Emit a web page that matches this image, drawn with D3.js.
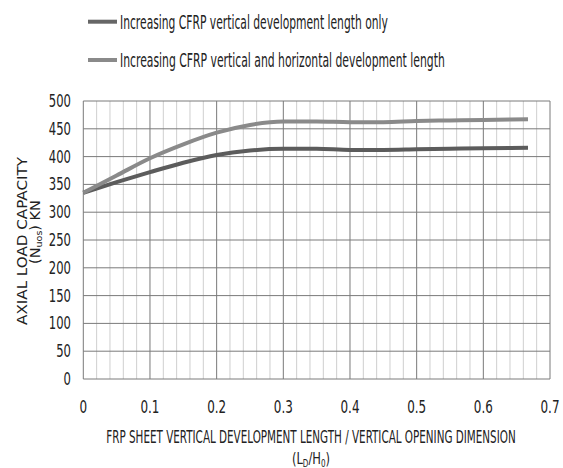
<!DOCTYPE html>
<html><head><meta charset="utf-8">
<script src="https://cdn.jsdelivr.net/npm/d3@7"></script>
<style>body{margin:0;background:#fff}svg{display:block}</style>
</head><body><svg id="c" width="563" height="468"></svg>
<script>
const xValues = [0, 0.05, 0.1, 0.15, 0.2, 0.25, 0.3, 0.35, 0.4, 0.45, 0.5, 0.55, 0.6, 0.667];
const verticalOnly = [335, 354, 372, 389, 403, 411, 414, 414, 412, 412, 413, 414, 415, 416];
const verticalHorizontal = [335, 366, 397, 422, 443, 457, 463, 463, 462, 462, 464, 465, 466, 467];
const seriesNames = ["Increasing CFRP vertical development length only", "Increasing CFRP vertical and horizontal development length"];
const xTicks = [0, 0.1, 0.2, 0.3, 0.4, 0.5, 0.6, 0.7];
const yTicks = [0, 50, 100, 150, 200, 250, 300, 350, 400, 450, 500];

const svg = d3.select("#c");
const narrow = "'Liberation Sans Narrow','DejaVu Sans Condensed',sans-serif";
const L = 83.3, R = 550, T = 101, B = 379;
const x = d3.scaleLinear().domain([0, 0.7]).range([L, R]);
const y = d3.scaleLinear().domain([0, 500]).range([B, T]);

// text placed in a group that is scaled horizontally (sx fixed, or fitted to width w)
function label(px, py, str, size, anchor, opt) {
  const g = svg.append("g");
  const t = g.append("text").attr("text-anchor", anchor)
    .attr("font-family", opt.family || narrow).attr("font-size", size).attr("fill", "#222");
  if (typeof str === "function") str(t); else t.text(str);
  let sx = opt.sx || 1;
  if (opt.w) sx = opt.w / t.node().getComputedTextLength();
  g.attr("transform", `translate(${px},${py})${opt.rot ? " rotate(-90)" : ""} scale(${sx},1)`);
  return g;
}

// minor vertical grid
const minor = d3.range(0, 71, 2).map(d => d / 100).filter((d, i) => i % 5 !== 0);
svg.append("g").selectAll("line").data(minor).join("line")
  .attr("x1", d => x(d)).attr("x2", d => x(d)).attr("y1", T).attr("y2", B)
  .attr("stroke", "#cfcfcf").attr("stroke-width", 1);
// major vertical grid
svg.append("g").selectAll("line").data(xTicks).join("line")
  .attr("x1", d => x(d)).attr("x2", d => x(d)).attr("y1", T).attr("y2", B)
  .attr("stroke", "#7a7a7a").attr("stroke-width", 1);
// horizontal grid
svg.append("g").selectAll("line").data(yTicks).join("line")
  .attr("x1", L).attr("x2", R).attr("y1", d => y(d)).attr("y2", d => y(d))
  .attr("stroke", "#7a7a7a").attr("stroke-width", 1);

// tick labels
yTicks.forEach(d => label(71, y(d) + 6, String(d), 17, "end", { sx: 0.76 }));
xTicks.forEach(d => label(x(d), 413, String(d), 17.5, "middle", { sx: 0.76 }));

// lines
const line = d3.line().x((d, i) => x(xValues[i])).y(d => y(d)).curve(d3.curveMonotoneX);
const colors = ["#5c5c5c", "#8a8a8a"];
[verticalOnly, verticalHorizontal].forEach((s, k) => {
  svg.append("path").attr("d", line(s)).attr("fill", "none")
    .attr("stroke", colors[k]).attr("stroke-width", 4);
});

// legend
const legY = [21.7, 60], legW = [268, 325];
seriesNames.forEach((n, k) => {
  svg.append("line").attr("x1", 88).attr("x2", 117).attr("y1", legY[k]).attr("y2", legY[k])
    .attr("stroke", k === 0 ? "#666" : "#8a8a8a").attr("stroke-width", 4);
  label(120, legY[k] + 7, n, 19, "start", { w: legW[k] });
});

// x axis title
label(311, 443, "FRP SHEET VERTICAL DEVELOPMENT LENGTH / VERTICAL OPENING DIMENSION", 17, "middle", { w: 410 });
label(311, 464, t => {
  t.append("tspan").text("(L");
  t.append("tspan").attr("font-size", 10).attr("dy", 3).text("D");
  t.append("tspan").attr("dy", -3).text("/H");
  t.append("tspan").attr("font-size", 10).attr("dy", 3).text("0");
  t.append("tspan").attr("dy", -3).text(")");
}, 16, "middle", { sx: 0.8 });

// y axis title
label(27, 241, "AXIAL LOAD CAPACITY", 14.5, "middle", { w: 168, rot: true, family: "'DejaVu Sans',sans-serif" });
label(40, 232, t => {
  t.append("tspan").text("(N");
  t.append("tspan").attr("font-size", 9.5).attr("dy", 2).text("uos");
  t.append("tspan").attr("dy", -2).text(") KN");
}, 14.5, "middle", { rot: true, family: "'DejaVu Sans',sans-serif" });
</script></body></html>
